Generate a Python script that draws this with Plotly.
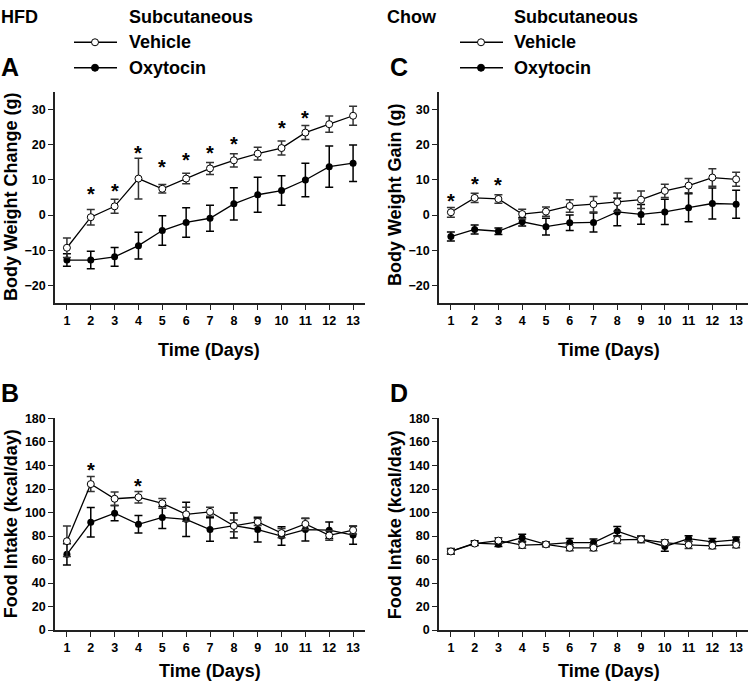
import plotly.graph_objects as go

days = list(range(1, 14))

# HFD - body weight change (g)
hfd_bw_veh = [-9.3, -0.6, 2.5, 10.4, 7.5, 10.4, 13.3, 15.6, 17.5, 19.1, 23.5, 25.9, 28.3]
hfd_bw_veh_se = [2.8, 2.2, 2.0, 5.8, 1.2, 1.5, 1.7, 1.9, 1.8, 2.0, 2.0, 2.3, 2.7]
hfd_bw_oxt = [-12.8, -12.8, -11.9, -8.7, -4.4, -2.1, -0.9, 3.2, 5.8, 7.0, 10.0, 13.8, 14.8]
hfd_bw_oxt_se = [1.8, 2.5, 2.7, 3.8, 4.2, 4.2, 3.7, 4.6, 5.0, 4.2, 4.8, 5.9, 5.2]

# HFD - food intake (kcal/day)
hfd_fi_veh = [75.6, 124.2, 111.7, 113.0, 107.8, 98.5, 100.6, 88.6, 92.0, 82.5, 90.3, 80.5, 85.0]
hfd_fi_veh_se = [13.0, 6.4, 5.8, 4.8, 4.2, 6.0, 3.8, 5.0, 3.0, 3.9, 4.7, 4.0, 3.3]
hfd_fi_oxt = [64.4, 91.7, 99.4, 90.0, 95.8, 94.2, 85.5, 88.9, 85.5, 80.0, 85.5, 85.0, 80.8]
hfd_fi_oxt_se = [9.0, 12.5, 6.5, 7.5, 9.4, 14.5, 10.0, 10.6, 10.5, 7.8, 9.7, 7.0, 7.8]

# Chow - body weight gain (g)
chow_bw_veh = [0.8, 4.9, 4.6, 0.3, 1.0, 2.6, 3.1, 3.7, 4.4, 6.9, 8.4, 10.7, 10.2]
chow_bw_veh_se = [1.4, 1.3, 1.2, 1.4, 1.3, 1.8, 2.2, 2.6, 2.5, 1.9, 2.0, 2.5, 2.0]
chow_bw_oxt = [-6.1, -4.1, -4.6, -1.9, -3.3, -2.2, -2.1, 0.9, 0.2, 0.9, 2.1, 3.3, 3.1]
chow_bw_oxt_se = [1.3, 1.3, 0.9, 1.2, 2.4, 2.2, 2.7, 3.9, 2.8, 3.6, 4.0, 4.4, 4.0]

# Chow - food intake (kcal/day)
chow_fi_veh = [66.9, 73.6, 76.1, 72.2, 72.9, 70.0, 70.0, 76.7, 77.2, 74.4, 72.5, 71.7, 72.5]
chow_fi_veh_se = [2.0, 1.5, 2.5, 2.5, 1.5, 2.5, 2.5, 3.0, 3.0, 2.5, 3.0, 2.5, 2.5]
chow_fi_oxt = [66.9, 73.9, 73.1, 78.6, 72.9, 74.4, 74.4, 84.2, 77.2, 71.1, 77.8, 75.0, 76.7]
chow_fi_oxt_se = [2.5, 2.0, 2.0, 3.0, 2.0, 3.5, 3.0, 4.0, 2.5, 4.0, 2.5, 3.0, 2.5]

# significance stars (day, height)
stars_a_days = [2, 3, 4, 5, 6, 7, 8, 10, 11, 13]
stars_a_y = [7.3, 8.2, 19.2, 15.2, 17.0, 19.0, 21.8, 26.1, 29.2, 35.4]
stars_b_days = [2, 4]
stars_b_y = [140.3, 127.2]
stars_c_days = [1, 2, 3]
stars_c_y = [5.5, 10.2, 9.9]

FONT = "Liberation Sans"
W, H = 750, 689

fig = go.Figure()


def add_panel(xa, ya, veh, veh_se, oxt, oxt_se):
    # oxytocin first so the open vehicle circles sit on top
    fig.add_trace(go.Scatter(
        x=days, y=oxt, mode="lines+markers", xaxis=xa, yaxis=ya,
        line=dict(color="black", width=1.3),
        marker=dict(color="black", size=7),
        error_y=dict(type="data", array=oxt_se, color="black", thickness=1.5, width=4),
        showlegend=False, cliponaxis=False,
    ))
    fig.add_trace(go.Scatter(
        x=days, y=veh, mode="lines+markers", xaxis=xa, yaxis=ya,
        line=dict(color="black", width=1.3),
        marker=dict(color="white", size=7, line=dict(color="black", width=1)),
        error_y=dict(type="data", array=veh_se, color="#333", thickness=1.5, width=4),
        showlegend=False, cliponaxis=False,
    ))


add_panel("x", "y", hfd_bw_veh, hfd_bw_veh_se, hfd_bw_oxt, hfd_bw_oxt_se)
add_panel("x2", "y2", hfd_fi_veh, hfd_fi_veh_se, hfd_fi_oxt, hfd_fi_oxt_se)
add_panel("x3", "y3", chow_bw_veh, chow_bw_veh_se, chow_bw_oxt, chow_bw_oxt_se)
add_panel("x4", "y4", chow_fi_veh, chow_fi_veh_se, chow_fi_oxt, chow_fi_oxt_se)

annotations = []
for xr, yr, sd, sy in [("x", "y", stars_a_days, stars_a_y),
                       ("x2", "y2", stars_b_days, stars_b_y),
                       ("x3", "y3", stars_c_days, stars_c_y)]:
    for d, v in zip(sd, sy):
        annotations.append(dict(x=d, y=v, xref=xr, yref=yr, text="*", showarrow=False,
                                font=dict(family=FONT, size=20, color="black", weight="bold"),
                                yshift=-5))


def px_x(p):
    return p / W


def px_y(p):
    return 1 - p / H


def label(x, y, text, size=18, angle=0, xanchor="center"):
    annotations.append(dict(x=px_x(x), y=px_y(y), xref="paper", yref="paper", text=text,
                            showarrow=False, textangle=angle, xanchor=xanchor, yanchor="middle",
                            borderpad=0,
                            font=dict(family=FONT, size=size, color="black", weight="bold")))


# headers
label(0, 10, "HFD", xanchor="left")
label(128, 10, "Subcutaneous", xanchor="left")
label(386, 10, "Chow", xanchor="left")
label(513, 10, "Subcutaneous", xanchor="left")
# panel letters
label(0, 61, "A", size=25, xanchor="left")
label(0, 394, "B", size=25, xanchor="left")
label(389, 61, "C", size=25, xanchor="left")
label(389, 394, "D", size=25, xanchor="left")
# axis titles
label(209, 350, "Time (Days)")
label(210, 678, "Time (Days)")
label(609, 350, "Time (Days)")
label(609, 678, "Time (Days)")
label(11, 194, "Body Weight Change (g)", angle=-90)
label(11, 528, "Food Intake (kcal/day)", angle=-90)
label(395, 191, "Body Weight Gain (g)", angle=-90)
label(395, 528, "Food Intake (kcal/day)", angle=-90)

# manual legends
shapes = []
for x0, x1, xm, xt in [(74, 117, 95, 128), (460, 503, 481, 513)]:
    for yy, fill, name in [(36, "white", "Vehicle"), (62, "black", "Oxytocin")]:
        shapes.append(dict(type="line", xref="paper", yref="paper",
                           x0=px_x(x0), x1=px_x(x1), y0=px_y(yy), y1=px_y(yy),
                           line=dict(color="black", width=1.3)))
        shapes.append(dict(type="circle", xref="paper", yref="paper",
                           xsizemode="pixel", ysizemode="pixel",
                           xanchor=px_x(xm), yanchor=px_y(yy),
                           x0=-3.5, x1=3.5, y0=-3.5, y1=3.5,
                           fillcolor=fill, line=dict(color="black", width=1)))
        label(xt, yy, name, xanchor="left")

xcommon = dict(range=[0.5, 13.5], tickmode="array", tickvals=days,
               showline=True, linecolor="#222", linewidth=1.5,
               ticks="outside", ticklen=5, tickwidth=1.3, tickcolor="#222",
               showgrid=False, zeroline=False, fixedrange=True,
               tickfont=dict(family=FONT, size=12.5, color="black", weight="bold"))
ybw = dict(range=[-25, 35], tickvals=[-20, -10, 0, 10, 20, 30],
           showline=True, linecolor="#222", linewidth=1.5,
           ticks="outside", ticklen=5, tickwidth=1.3, tickcolor="#222",
           showgrid=False, zeroline=False, fixedrange=True,
           tickfont=dict(family=FONT, size=12.5, color="black", weight="bold"))
yfi = dict(ybw, range=[0, 180], tickvals=[0, 20, 40, 60, 80, 100, 120, 140, 160, 180])

left = [px_x(55), px_x(365)]
right = [px_x(439), px_x(748)]
top = [px_y(302), px_y(87)]
bottom = [px_y(636), px_y(420)]

fig.update_layout(
    width=W, height=H, autosize=False,
    margin=dict(l=0, r=0, t=0, b=0),
    paper_bgcolor="white", plot_bgcolor="white",
    xaxis=dict(xcommon, domain=left, anchor="y"),
    yaxis=dict(ybw, domain=top, anchor="x"),
    xaxis2=dict(xcommon, domain=left, anchor="y2"),
    yaxis2=dict(yfi, domain=bottom, anchor="x2"),
    xaxis3=dict(xcommon, domain=right, anchor="y3"),
    yaxis3=dict(ybw, domain=top, anchor="x3"),
    xaxis4=dict(xcommon, domain=right, anchor="y4"),
    yaxis4=dict(yfi, domain=bottom, anchor="x4"),
    annotations=annotations,
    shapes=shapes,
    showlegend=False,
)

# the page body has a default 8px margin; drop it so the figure fills the window
fig.write_html("out.html", post_script="document.body.style.margin='0';",
               config={"displayModeBar": False})
